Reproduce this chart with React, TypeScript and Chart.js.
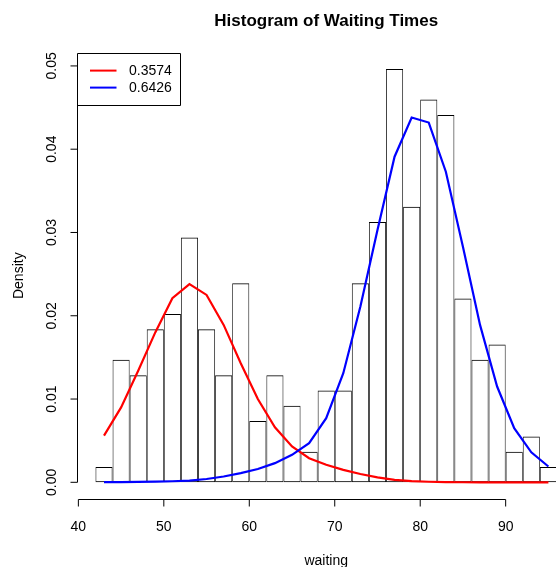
import { useEffect, useRef } from "react";
import { Chart, registerables } from "chart.js";

Chart.register(...registerables);

// ---- Data ----
const BIN_MIDS = [43, 45, 47, 49, 51, 53, 55, 57, 59, 61, 63, 65, 67, 69, 71, 73, 75, 77, 79, 81, 83, 85, 87, 89, 91, 93, 95];
const BIN_COUNTS = [1, 8, 7, 10, 11, 16, 10, 7, 13, 4, 7, 5, 2, 6, 6, 13, 17, 27, 18, 25, 24, 12, 8, 9, 2, 3, 1];
const N_OBS = 272;
const BIN_WIDTH = 2;

const CURVE_X = [43, 45, 47, 49, 51, 53, 55, 57, 59, 61, 63, 65, 67, 69, 71, 73, 75, 77, 79, 81, 83, 85, 87, 89, 91, 93, 95];
const RED_COMPONENT = [0.0056, 0.009, 0.0134, 0.018, 0.0221, 0.0238, 0.0225, 0.0189, 0.0143, 0.01, 0.0066, 0.0043, 0.0029, 0.0021, 0.0015, 0.001, 0.0006, 0.0003, 0.00015, 0.00007, 0.00003, 0.00001, 0, 0, 0, 0, 0];
const BLUE_COMPONENT = [0.00002, 0.00003, 0.00005, 0.00008, 0.00013, 0.0002, 0.0004, 0.0007, 0.0011, 0.0016, 0.0023, 0.0033, 0.0047, 0.0077, 0.0131, 0.0211, 0.0303, 0.0391, 0.0438, 0.0432, 0.0373, 0.0283, 0.0189, 0.0115, 0.0065, 0.0036, 0.0019];

const LEGEND_LABELS = ["0.3574", "0.6426"];
const LEGEND_COLORS = ["#FF0000", "#0000FF"];

const X_TICKS = [40, 50, 60, 70, 80, 90];
const X_TICK_LABELS = ["40", "50", "60", "70", "80", "90"];
const Y_TICKS = [0, 0.01, 0.02, 0.03, 0.04, 0.05];
const Y_TICK_LABELS = ["0.00", "0.01", "0.02", "0.03", "0.04", "0.05"];

const TITLE = "Histogram of Waiting Times";
const X_LABEL = "waiting";
const Y_LABEL = "Density";

const FONT = '"Liberation Sans", Arial, Helvetica, sans-serif';

const CANVAS_W = 600;
const CANVAS_H = 567;

const rStylePlugin = {
  id: "rStyle",
  afterDraw(chart: any) {
    const { ctx, chartArea, scales } = chart;
    const xs = scales.x;
    const ys = scales.y;
    ctx.save();
    ctx.strokeStyle = "#000";
    ctx.fillStyle = "#000";
    ctx.lineWidth = 1;

    // X axis
    const axY = Math.round(chartArea.bottom) + 0.5;
    ctx.beginPath();
    ctx.moveTo(xs.getPixelForValue(X_TICKS[0]), axY);
    ctx.lineTo(xs.getPixelForValue(X_TICKS[X_TICKS.length - 1]), axY);
    X_TICKS.forEach((t) => {
      const px = xs.getPixelForValue(t);
      ctx.moveTo(px, axY);
      ctx.lineTo(px, axY + 7);
    });
    ctx.stroke();
    ctx.font = "14px " + FONT;
    ctx.textAlign = "center";
    ctx.textBaseline = "alphabetic";
    X_TICKS.forEach((t, i) => {
      ctx.fillText(X_TICK_LABELS[i], xs.getPixelForValue(t), 531);
    });

    // Y axis
    const axX = Math.round(chartArea.left) + 0.5;
    ctx.beginPath();
    ctx.moveTo(axX, ys.getPixelForValue(Y_TICKS[0]));
    ctx.lineTo(axX, ys.getPixelForValue(Y_TICKS[Y_TICKS.length - 1]));
    Y_TICKS.forEach((t) => {
      const py = ys.getPixelForValue(t);
      ctx.moveTo(axX, py);
      ctx.lineTo(axX - 7, py);
    });
    ctx.stroke();
    Y_TICKS.forEach((t, i) => {
      const py = ys.getPixelForValue(t);
      ctx.save();
      ctx.translate(56, py);
      ctx.rotate(-Math.PI / 2);
      ctx.fillText(Y_TICK_LABELS[i], 0, 0);
      ctx.restore();
    });

    // Axis titles
    const cx = (chartArea.left + chartArea.right) / 2;
    const cy = (chartArea.top + chartArea.bottom) / 2;
    ctx.fillText(X_LABEL, cx, 565);
    ctx.save();
    ctx.translate(23, cy);
    ctx.rotate(-Math.PI / 2);
    ctx.fillText(Y_LABEL, 0, 0);
    ctx.restore();

    // Main title
    ctx.font = "bold 17px " + FONT;
    ctx.fillText(TITLE, cx, 26);

    // Legend (top-left of plot region)
    const lx = chartArea.left;
    const ly = chartArea.top;
    ctx.beginPath();
    ctx.rect(Math.round(lx) + 0.5, Math.round(ly) + 0.5, 103, 52);
    ctx.stroke();
    ctx.font = "14px " + FONT;
    ctx.textAlign = "left";
    ctx.textBaseline = "middle";
    LEGEND_LABELS.forEach((lab, i) => {
      const yy = ly + 18 + i * 17;
      ctx.strokeStyle = LEGEND_COLORS[i];
      ctx.lineWidth = 2;
      ctx.beginPath();
      ctx.moveTo(lx + 13, yy);
      ctx.lineTo(lx + 39.5, yy);
      ctx.stroke();
      ctx.fillStyle = "#000";
      ctx.fillText(lab, lx + 52, yy + 0.5);
    });
    ctx.restore();
  },
};

export default function App() {
  const canvasRef = useRef<HTMLCanvasElement | null>(null);

  useEffect(() => {
    if (!canvasRef.current) return;
    const histData = BIN_MIDS.map((m, i) => ({ x: m, y: BIN_COUNTS[i] / (N_OBS * BIN_WIDTH) }));
    const redData = CURVE_X.map((x, i) => ({ x, y: RED_COMPONENT[i] }));
    const blueData = CURVE_X.map((x, i) => ({ x, y: BLUE_COMPONENT[i] }));

    const chart = new Chart(canvasRef.current, {
      type: "bar",
      data: {
        datasets: [
          {
            type: "line",
            label: LEGEND_LABELS[1],
            data: blueData,
            borderColor: LEGEND_COLORS[1],
            borderWidth: 2.2,
            pointRadius: 0,
            tension: 0,
            fill: false,
            order: 0,
          } as any,
          {
            type: "line",
            label: LEGEND_LABELS[0],
            data: redData,
            borderColor: LEGEND_COLORS[0],
            borderWidth: 2.2,
            pointRadius: 0,
            tension: 0,
            fill: false,
            order: 1,
          } as any,
          {
            type: "bar",
            label: "hist",
            data: histData,
            backgroundColor: "rgba(0,0,0,0)",
            borderColor: "#000",
            borderWidth: { top: 1, bottom: 1, left: 0.75, right: 0.75 },
            borderSkipped: false,
            inflateAmount: 0,
            barPercentage: 1,
            categoryPercentage: 1,
            order: 2,
          } as any,
        ],
      },
      options: {
        responsive: false,
        maintainAspectRatio: false,
        animation: false,
        devicePixelRatio: 1,
        events: [],
        layout: {
          padding: { left: 77, top: 52.6, right: CANVAS_W - 575.4, bottom: CANVAS_H - 498.8 },
        },
        plugins: {
          legend: { display: false },
          title: { display: false },
          tooltip: { enabled: false },
        },
        scales: {
          x: { type: "linear", min: 39.84, max: 98.16, offset: false, display: false },
          y: { type: "linear", min: -0.00198, max: 0.0516, display: false },
        },
      },
      plugins: [rStylePlugin],
    });
    return () => chart.destroy();
  }, []);

  return (
    <div
      style={{
        position: "absolute",
        left: 0,
        top: 0,
        width: 556,
        height: 567,
        overflow: "hidden",
        background: "#fff",
      }}
    >
      <canvas ref={canvasRef} width={CANVAS_W} height={CANVAS_H} style={{ display: "block" }} />
    </div>
  );
}
